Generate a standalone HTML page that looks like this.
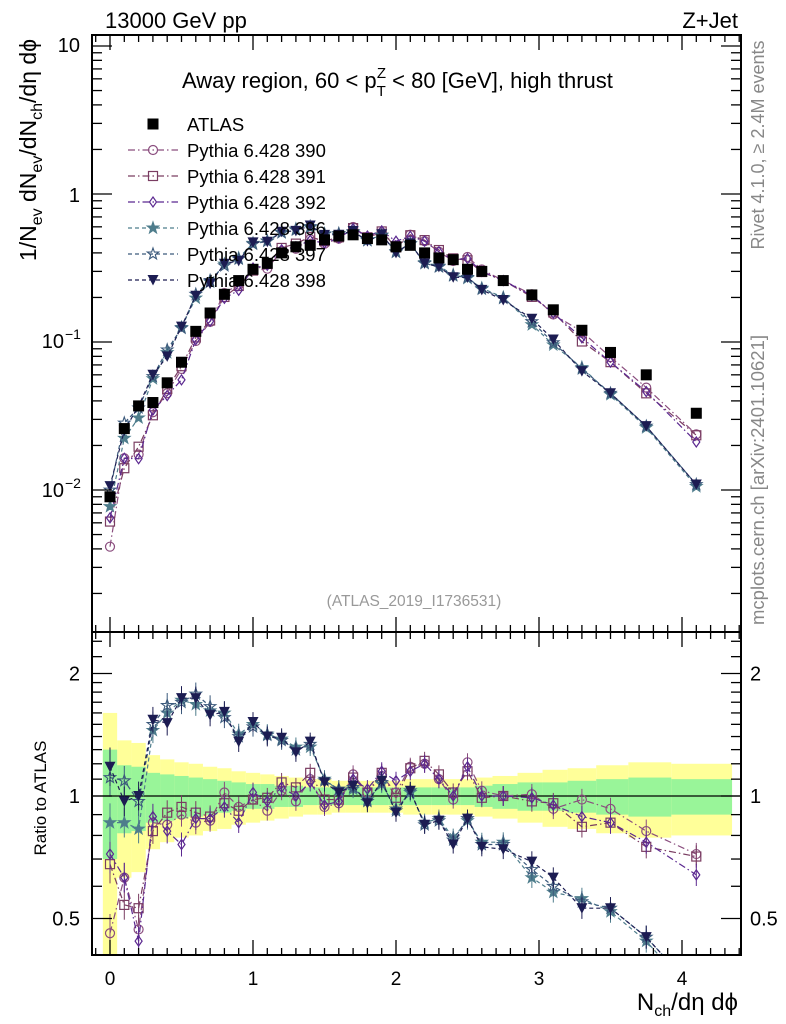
<!DOCTYPE html>
<html><head><meta charset="utf-8"><style>
body{margin:0;background:#fff}
svg{display:block;font-family:"Liberation Sans",sans-serif}
</style></head><body>
<svg id="c" width="786" height="1024" xmlns="http://www.w3.org/2000/svg"></svg>
<script>
const xs=[0,0.1,0.2,0.3,0.4,0.5,0.6,0.7,0.8,0.9,1.0,1.1,1.2,1.3,1.4,1.5,1.6,1.7,1.8,1.9,2.0,2.1,2.2,2.3,2.4,2.5,2.6,2.75,2.95,3.1,3.3,3.5,3.75,4.1];
const atlas=[0.009,0.026,0.037,0.039,0.053,0.073,0.118,0.157,0.21,0.26,0.31,0.34,0.40,0.44,0.45,0.49,0.52,0.53,0.50,0.49,0.44,0.45,0.40,0.37,0.36,0.31,0.30,0.26,0.208,0.165,0.12,0.085,0.06,0.033];
const r390=[0.46,0.63,0.47,0.86,0.85,0.90,0.86,0.87,1.02,0.94,0.98,0.92,1.03,0.97,1.10,0.94,0.96,1.13,1.02,1.12,1.02,1.18,1.2,1.1,0.98,1.21,1.03,1.0,1.01,0.93,0.98,0.93,0.82,0.72];
const r391=[0.68,0.54,0.53,0.82,0.91,0.94,0.91,0.89,0.96,0.92,0.98,0.99,1.08,1.05,1.14,0.98,0.98,1.11,1.02,1.14,0.99,1.17,1.22,1.13,1.02,1.15,0.99,1.0,0.97,0.96,0.84,0.86,0.75,0.71];
const r392=[0.72,0.63,0.44,0.89,0.82,0.76,0.88,0.88,0.94,0.86,1.02,0.97,1.05,1.0,1.08,0.95,0.97,1.10,1.04,1.15,1.09,1.15,1.2,1.1,1.0,1.18,1.0,1.0,0.99,0.95,0.89,0.86,0.77,0.64];
const r396=[0.86,0.86,0.83,1.45,1.6,1.72,1.68,1.62,1.6,1.42,1.5,1.42,1.38,1.32,1.32,1.10,1.03,1.04,0.98,1.07,0.93,1.02,0.86,0.88,0.79,0.87,0.77,0.77,0.63,0.58,0.56,0.52,0.44,0.32];
const r397=[1.11,1.09,0.97,1.5,1.67,1.7,1.78,1.66,1.56,1.4,1.48,1.41,1.37,1.3,1.34,1.09,1.04,1.05,0.97,1.08,0.92,1.03,0.85,0.87,0.78,0.88,0.76,0.76,0.66,0.6,0.55,0.53,0.45,0.33];
const r398=[1.18,0.97,1.0,1.54,1.51,1.74,1.74,1.58,1.61,1.36,1.52,1.40,1.39,1.28,1.36,1.08,1.02,1.06,0.96,1.09,0.91,1.03,0.85,0.87,0.76,0.88,0.75,0.74,0.69,0.63,0.53,0.53,0.45,0.33];
const errYellow=[0.6,0.37,0.35,0.26,0.23,0.21,0.2,0.18,0.17,0.15,0.14,0.13,0.12,0.11,0.1,0.1,0.09,0.09,0.09,0.09,0.09,0.1,0.1,0.1,0.1,0.1,0.11,0.12,0.14,0.16,0.17,0.19,0.21,0.2];
const errGreen=[0.3,0.19,0.18,0.14,0.13,0.12,0.11,0.1,0.09,0.08,0.07,0.07,0.06,0.06,0.05,0.05,0.05,0.05,0.05,0.05,0.05,0.05,0.05,0.05,0.05,0.05,0.06,0.07,0.08,0.08,0.09,0.1,0.11,0.1];
const xTicks=[0,1,2,3,4];

const svg=document.getElementById('c');
const NS='http://www.w3.org/2000/svg';
const L=92,R=741,T=35,MB=632,RB=955;
const X=v=>110+v*143;
const Y=v=>194-Math.log10(v)*148;
const RY=r=>796-Math.log2(r)*122.5;
function el(tag,attrs,parent){const e=document.createElementNS(NS,tag);for(const k in attrs)e.setAttribute(k,attrs[k]);(parent||svg).appendChild(e);return e;}
function txt(s,x,y,size,attrs,parent){const t=el('text',Object.assign({x:x,y:y,'font-size':size},attrs||{}),parent);t.textContent=s;return t;}

const bands=el('g',{});


const edges=[];
for(let i=0;i<=xs.length;i++){
  if(i==0)edges.push(xs[0]-0.05);else if(i==xs.length)edges.push(4.35);else edges.push((xs[i-1]+xs[i])/2);
}
const clipTop=v=>Math.max(Math.min(v,RB),MB);
for(let i=0;i<xs.length;i++){
  const x0=X(edges[i]),x1=X(edges[i+1]);
  const yt=clipTop(RY(1+errYellow[i])),yb=clipTop(RY(Math.max(1-errYellow[i],0.3)));
  const r=el('rect',{x:x0,y:yt,width:x1-x0,height:yb-yt,fill:'#ffff99'},bands);
  
  
}
for(let i=0;i<xs.length;i++){
  const x0=X(edges[i]),x1=X(edges[i+1]);
  const yt=clipTop(RY(1+errGreen[i])),yb=clipTop(RY(Math.max(1-errGreen[i],0.3)));
  const r=el('rect',{x:x0,y:yt,width:x1-x0,height:yb-yt,fill:'#99f599'},bands);
  
  
}
const one=el('line',{x1:L,x2:R,y1:RY(1),y2:RY(1),stroke:'#000','stroke-width':1.3});



const defs=el('defs',{});
const c1=el('clipPath',{id:'cm'},defs);el('rect',{x:L,y:T,width:R-L,height:MB-T},c1);
const c2=el('clipPath',{id:'cr'},defs);el('rect',{x:L,y:MB,width:R-L,height:RB-MB},c2);

function marker(g,shape,x,y,color){
  let m;
  if(shape=='atlas'){m=el('rect',{x:x-5.5,y:y-5.5,width:11,height:11,fill:'#000'},g);}
  else if(shape=='circle'){m=el('circle',{cx:x,cy:y,r:4.5,fill:'none',stroke:color,'stroke-width':1.2},g);}
  else if(shape=='osquare'){m=el('rect',{x:x-4.5,y:y-4.5,width:9,height:9,fill:'none',stroke:color,'stroke-width':1.2},g);}
  else if(shape=='diamond'){m=el('polygon',{points:`${x},${y-5} ${x+3.5},${y} ${x},${y+5} ${x-3.5},${y}`,fill:'none',stroke:color,'stroke-width':1.2},g);}
  else if(shape=='star'||shape=='ostar'){
    let p=[];for(let k=0;k<10;k++){const a=-Math.PI/2+k*Math.PI/5;const rr=k%2?2.4:6;p.push((x+rr*Math.cos(a)).toFixed(1)+','+(y+rr*Math.sin(a)).toFixed(1));}
    m=el('polygon',{points:p.join(' '),fill:shape=='star'?color:'none',stroke:color,'stroke-width':1.1},g);}
  else if(shape=='tri'){m=el('polygon',{points:`${x-5.5},${y-5} ${x+5.5},${y-5} ${x},${y+5.5}`,fill:color},g);}
  
  
}

const series=[
 {name:'Pythia 6.428 390',r:r390,shape:'circle',color:'#8a4d7e',dash:'7,3,1.5,3'},
 {name:'Pythia 6.428 391',r:r391,shape:'osquare',color:'#7a3d62',dash:'7,3,1.5,3'},
 {name:'Pythia 6.428 392',r:r392,shape:'diamond',color:'#5b2890',dash:'7,3,1.5,3'},
 {name:'Pythia 6.428 396',r:r396,shape:'star',color:'#4e7d8c',dash:'4,3'},
 {name:'Pythia 6.428 397',r:r397,shape:'ostar',color:'#3c5a7c',dash:'4,3'},
 {name:'Pythia 6.428 398',r:r398,shape:'tri',color:'#1c1c52',dash:'4,3'}
];

series.forEach(s=>{
  const gm=el('g',{'clip-path':'url(#cm)'});
  
  
  const vals=xs.map((x,i)=>atlas[i]*s.r[i]);
  el('polyline',{points:xs.map((x,i)=>X(x)+','+Y(vals[i])).join(' '),fill:'none',stroke:s.color,'stroke-width':1.2,'stroke-dasharray':s.dash},gm);
  xs.forEach((x,i)=>marker(gm,s.shape,X(x),Y(vals[i]),s.color));
  const gr=el('g',{'clip-path':'url(#cr)'});
  
  
  el('polyline',{points:xs.map((x,i)=>X(x)+','+RY(s.r[i])).join(' '),fill:'none',stroke:s.color,'stroke-width':1.2,'stroke-dasharray':s.dash},gr);
  xs.forEach((x,i)=>{
    const e=0.04+0.25*errGreen[i];
    el('line',{x1:X(x),x2:X(x),y1:RY(s.r[i]*(1+e)),y2:RY(s.r[i]/(1+e)),stroke:s.color,'stroke-width':1},gr);
    marker(gr,s.shape,X(x),RY(s.r[i]),s.color);
  });
});
const ga=el('g',{'clip-path':'url(#cm)'});


xs.forEach((x,i)=>marker(ga,'atlas',X(x),Y(atlas[i]),'#000'));

for(const [y0,y1,nm] of [[T,MB,'main-frame'],[MB,RB,'ratio-frame']]){
  const f=el('rect',{x:L,y:y0,width:R-L,height:y1-y0,fill:'none',stroke:'#000','stroke-width':2});
  
  
}
const tk=el('g',{stroke:'#000','stroke-width':1.3});


for(let v=-0.1;v<=4.45;v+=0.1){
  const vv=Math.round(v*10)/10;const x=X(vv);if(x<L||x>R)continue;
  const major=Math.abs(vv-Math.round(vv))<1e-6;const len=major?15:7;
  for(const [a,b] of [[T,1],[MB,-1],[MB,1],[RB,-1]]) el('line',{x1:x,x2:x,y1:a,y2:a+b*len},tk);
}
for(let d=-3;d<=1;d++){for(let k=1;k<10;k++){const v=k*Math.pow(10,d);const y=Y(v);if(y<T||y>MB)continue;const len=k==1?20:10;
  el('line',{x1:L,x2:L+len,y1:y,y2:y},tk);el('line',{x1:R,x2:R-len,y1:y,y2:y},tk);}}
[0.4,0.5,0.6,0.7,0.8,0.9,1,1.1,1.2,1.3,1.4,1.5,1.6,1.7,1.8,1.9,2,2.2,2.4].forEach(v=>{const y=RY(v);if(y<MB||y>RB)return;const len=(v==0.5||v==1||v==2)?20:10;
  el('line',{x1:L,x2:L+len,y1:y,y2:y},tk);el('line',{x1:R,x2:R-len,y1:y,y2:y},tk);});

const lab=el('g',{fill:'#000'});


xTicks.forEach(v=>txt(String(v),X(v),985,19,{'text-anchor':'middle'},lab));
txt('10',80,52,20,{'text-anchor':'end'},lab);
txt('1',80,202,20,{'text-anchor':'end'},lab);
txt('10',64,348,20,{'text-anchor':'end'},lab);
txt('−1',65,339,14,{},lab);
txt('10',64,497,20,{'text-anchor':'end'},lab);
txt('−2',65,488,14,{},lab);
[['2',2],['1',1],['0.5',0.5]].forEach(([s,v])=>{txt(s,80,RY(v)+7,20,{'text-anchor':'end'},lab);txt(s,750,RY(v)+7,20,{},lab);});

const h1=txt('13000 GeV pp',105,28,22,{});
const h2=txt('Z+Jet',738,28,22,{'text-anchor':'end'});
const ti=el('text',{x:182,y:88,'font-size':22});

ti.innerHTML='Away region, 60 &lt; p<tspan font-size="15" dy="8">T</tspan><tspan font-size="15" dx="-9" dy="-18">Z</tspan><tspan dy="10"> &lt; 80 [GeV], high thrust</tspan>';
const yl=el('text',{transform:'translate(36,150) rotate(-90)','text-anchor':'middle','font-size':23});

yl.innerHTML='1/N<tspan font-size="16" dy="6">ev</tspan><tspan dy="-6"> dN</tspan><tspan font-size="16" dy="6">ev</tspan><tspan dy="-6">/dN</tspan><tspan font-size="16" dy="6">ch</tspan><tspan dy="-6">/dη dϕ</tspan>';
const rl=txt('Ratio to ATLAS',0,0,17,{transform:'translate(46,798) rotate(-90)','text-anchor':'middle'});

const xl=el('text',{x:738,y:1010,'text-anchor':'end','font-size':24});

xl.innerHTML='N<tspan font-size="16" dy="6">ch</tspan><tspan dy="-6">/dη dϕ</tspan>';
const rv=txt('Rivet 4.1.0, ≥ 2.4M events',0,0,18,{transform:'translate(764,145) rotate(-90)','text-anchor':'middle',fill:'#888'});

const mc=txt('mcplots.cern.ch [arXiv:2401.10621]',0,0,18.5,{transform:'translate(764,480) rotate(-90)','text-anchor':'middle',fill:'#888'});

const an=txt('(ATLAS_2019_I1736531)',414,606,15.5,{'text-anchor':'middle',fill:'#999'});


const lg=el('g',{});

const le0=el('g',{},lg);

marker(le0,'atlas',153,124,'#000');
txt('ATLAS',187,131,18.5,{},le0);
series.forEach((s,i)=>{
  const y=150+i*26;
  const g=el('g',{},lg);
  
  
  el('line',{x1:128,x2:178,y1:y,y2:y,stroke:s.color,'stroke-width':1.2,'stroke-dasharray':s.dash},g);
  marker(g,s.shape,153,y,s.color);
  txt(s.name,187,y+7,18.5,{},g);
});
</script>
</body></html>
